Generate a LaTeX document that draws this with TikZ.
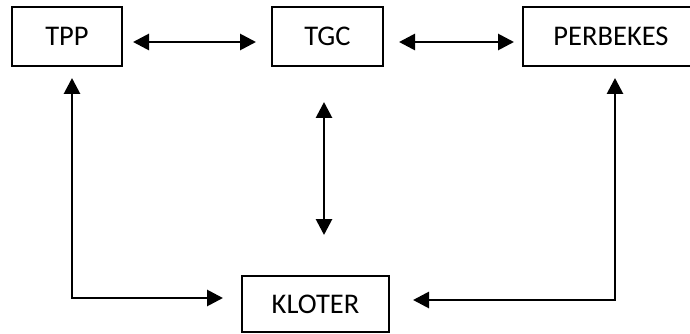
\documentclass[tikz,border=0pt]{standalone}
\usepackage{fontspec}
\setmainfont{Carlito}
\usetikzlibrary{arrows.meta}
\begin{document}
\begin{tikzpicture}[x=1pt,y=-1pt,
  box/.style={draw=black,line width=1.5pt,minimum height=59pt,inner sep=0pt,
    font=\fontsize{28.5}{34}\selectfont},
  tip/.style={Triangle[length=16pt,width=16pt]},
  dlink/.style={line width=2.8pt,line join=miter,{Triangle[length=16pt,width=16pt]}-{Triangle[length=16pt,width=16pt]}}]
  \clip (0,0) rectangle (690,334);
  \fill[white] (0,0) rectangle (690,334);

  % the four boxes
  \node[box,minimum width=110pt] (tpp) at (67,36.5) {TPP};
  \node[box,minimum width=111pt] (tgc) at (327.5,36.5) {TGC};
  \node[box,minimum width=176pt] (perb) at (611,36.5) {PERBEKES};
  \node[box,minimum width=147pt,minimum height=56pt] (kloter) at (315.5,304) {KLOTER};

  % connector end points
  \coordinate (a1) at (133,42);   \coordinate (a2) at (256,42);
  \coordinate (b1) at (399,42);   \coordinate (b2) at (514,42);
  \coordinate (c1) at (324,102);  \coordinate (c2) at (324,235);
  \coordinate (l1) at (72,78);    \coordinate (l2) at (223,298);
  \coordinate (r1) at (615,78);   \coordinate (r2) at (413,300);

  % two-way links between the top boxes and down to KLOTER
  \draw[dlink] (a1) -- (a2);
  \draw[dlink] (b1) -- (b2);
  \draw[dlink] (c1) -- (c2);

  % elbow links from KLOTER up to TPP and PERBEKES
  \draw[dlink] (l1) |- (l2);
  \draw[dlink] (r1) |- (r2);
\end{tikzpicture}
\end{document}
